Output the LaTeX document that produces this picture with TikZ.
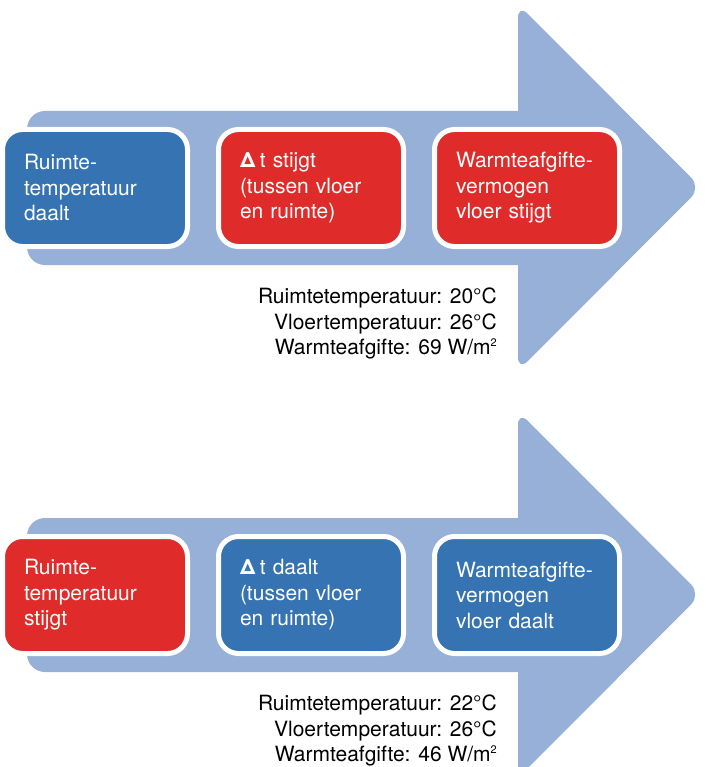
\documentclass[tikz,border=0pt]{standalone}
\usepackage{fontspec}
\setmainfont{TeX Gyre Heros}
\usepackage{xcolor}
\usepackage{tikz}
\usetikzlibrary{positioning}
\definecolor{pijlblauw}{HTML}{96B0D7}
\definecolor{donkerblauw}{HTML}{3573B2}
\definecolor{rood}{HTML}{E02B2B}
\newcommand{\dt}{\textbf{Δ}\kern4.5pt t}
\newcommand{\kwadraat}{\raisebox{8pt}{\fontsize{11}{11}\selectfont 2}}

\begin{document}
\begin{tikzpicture}[x=1pt, y=1pt, font=\fontsize{21}{25.5}\selectfont]
  \hyphenpenalty=10000
  \tikzset{pijl/.style={fill=pijlblauw},
           stap/.style={draw=white, line width=5pt, rounded corners=20pt,
                        minimum width=185pt, minimum height=117pt,
                        text width=142pt, inner xsep=21.5pt, align=left,
                        text=white, fill=#1},
           info/.style={anchor=north east, inner sep=0pt, align=right}}
  \useasboundingbox (0,0) rectangle (704,-767);

  % bovenste pijl: ruimte koelt af
  \fill[pijl, rounded corners=18pt] (560,-111) -- (27,-111) -- (27,-265) -- (560,-265) -- cycle;
  \fill[pijl, rounded corners=14pt] (518,-4) -- (701,-187.5) -- (518,-371) -- cycle;
  \node[stap=donkerblauw] at (95,-188) (r1) {Ruimte-\\temperatuur\\daalt};
  \node[stap=rood, right=26pt of r1]  (dt1) {\dt{} stijgt\\(tussen vloer\\en ruimte)};
  \node[stap=rood, right=26pt of dt1] (w1)  {Warmteafgifte-\\vermogen\\vloer stijgt};
  \node[info] at (497,-288) (info1)
       {Ruimtetemperatuur: 20°C\\Vloertemperatuur: 26°C\\Warmteafgifte: 69 W/m\kwadraat};

  % onderste pijl: ruimte warmt op
  \begin{scope}[yshift=-407pt]
    \fill[pijl, rounded corners=18pt] (560,-111) -- (27,-111) -- (27,-265) -- (560,-265) -- cycle;
    \fill[pijl, rounded corners=14pt] (518,-4) -- (701,-187.5) -- (518,-371) -- cycle;
    \node[stap=rood] at (95,-188) (r2) {Ruimte-\\temperatuur\\stijgt};
    \node[stap=donkerblauw, right=26pt of r2]  (dt2) {\dt{} daalt\\(tussen vloer\\en ruimte)};
    \node[stap=donkerblauw, right=26pt of dt2] (w2)  {Warmteafgifte-\\vermogen\\vloer daalt};
    \node[info] at (497,-288) (info2)
         {Ruimtetemperatuur: 22°C\\Vloertemperatuur: 26°C\\Warmteafgifte: 46 W/m\kwadraat};
  \end{scope}
\end{tikzpicture}
\end{document}
